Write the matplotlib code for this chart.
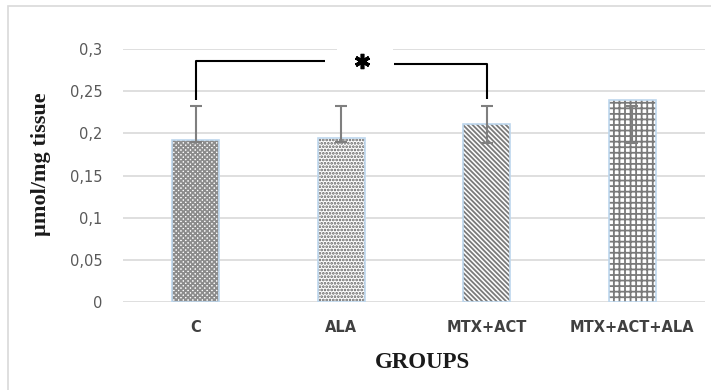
import numpy as np
import matplotlib
matplotlib.use("Agg")
import matplotlib.pyplot as plt
from matplotlib.patches import Rectangle

groups = ["C", "ALA", "MTX+ACT", "MTX+ACT+ALA"]
values = [0.192, 0.194, 0.211, 0.2395]
err_low = [0.190, 0.190, 0.189, 0.189]
err_high = [0.233, 0.233, 0.233, 0.233]
hatches = ["xxxxxxx", ".....", "\\\\\\\\\\\\\\", "+++"]
hatch_colors = ["#8c8c8c", "#5e5e5e", "#7a7a7a", "#7a7a7a"]
yticks = [0, 0.05, 0.1, 0.15, 0.2, 0.25, 0.3]
ytick_labels = ["0", "0,05", "0,1", "0,15", "0,2", "0,25", "0,3"]

# significance bracket C vs MTX+ACT
br_left_bottom, br_left_top, br_left_end = 0.2395, 0.2861, 0.888
br_right_start, br_right_top, br_right_bottom = 1.363, 0.2822, 0.241
star_x, star_y = 1.143, 0.2861

plt.rcParams['hatch.linewidth'] = 1.3

fig = plt.figure(figsize=(7.11, 3.9), dpi=100)
fig.patches.append(Rectangle((8 / 711, -0.1), 2, 1.1 - 6 / 390, transform=fig.transFigure,
                             fill=False, edgecolor='#d9d9d9', linewidth=1.2))
ax = fig.add_axes([123 / 711, 1 - 302 / 390, (705 - 123) / 711, (302 - 49) / 390])

x = np.arange(len(groups))
for i in range(len(groups)):
    ax.bar(x[i], values[i], width=0.32, color='white', edgecolor=hatch_colors[i],
           linewidth=0, hatch=hatches[i], zorder=2)
    ax.bar(x[i], values[i], width=0.32, fill=False, edgecolor='#bdd7ee',
           linewidth=1.2, zorder=3)

lo = np.array(err_low)
hi = np.array(err_high)
mid = (lo + hi) / 2
ax.errorbar(x, mid, yerr=(hi - lo) / 2, fmt='none', ecolor='#7f7f7f', elinewidth=1.5,
            capsize=4.5, capthick=1.5, zorder=4)

# bracket
ax.plot([x[0], x[0], br_left_end], [br_left_bottom, br_left_top, br_left_top],
        color='black', lw=1.5, zorder=5, clip_on=False, solid_capstyle='butt')
ax.plot([br_right_start, x[2], x[2]], [br_right_top, br_right_top, br_right_bottom],
        color='black', lw=1.5, zorder=5, clip_on=False, solid_capstyle='butt')
ax.add_patch(Rectangle((0.971, 0.29), 0.385, 0.02, facecolor='white', edgecolor='none',
                       zorder=4, clip_on=False))
ax.plot([star_x], [star_y], marker=(6, 2, 0), markersize=11, mew=2.6, color='black',
        zorder=6, clip_on=False)

ax.set_xlim(-0.5, len(groups) - 0.5)
ax.set_ylim(0, 0.3)
ax.set_yticks(yticks)
ax.set_yticklabels(ytick_labels)
ax.set_xticks(x)
ax.set_xticklabels(groups, fontweight='bold', fontsize=10.5, color='#404040')
ax.tick_params(axis='y', length=0, pad=15, labelsize=10.5, labelcolor='#595959')
ax.tick_params(axis='x', length=0, pad=13)
ax.grid(axis='y', color='#d9d9d9', lw=1.2, zorder=0)
ax.set_axisbelow(True)
for s in ax.spines.values():
    s.set_visible(False)

fig.text(423 / 711, 1 - 363 / 390, "GROUPS", family='Liberation Serif', fontweight='bold',
         fontsize=16.5, ha='center', va='center', color='#1a1a1a')
fig.text(41 / 711, 1 - 164 / 390, "µmol/mg tissue", family='Liberation Serif', fontweight='bold',
         fontsize=16, rotation=90, ha='center', va='center', color='#1a1a1a')

plt.savefig("out.png", dpi=100)
plt.close()
